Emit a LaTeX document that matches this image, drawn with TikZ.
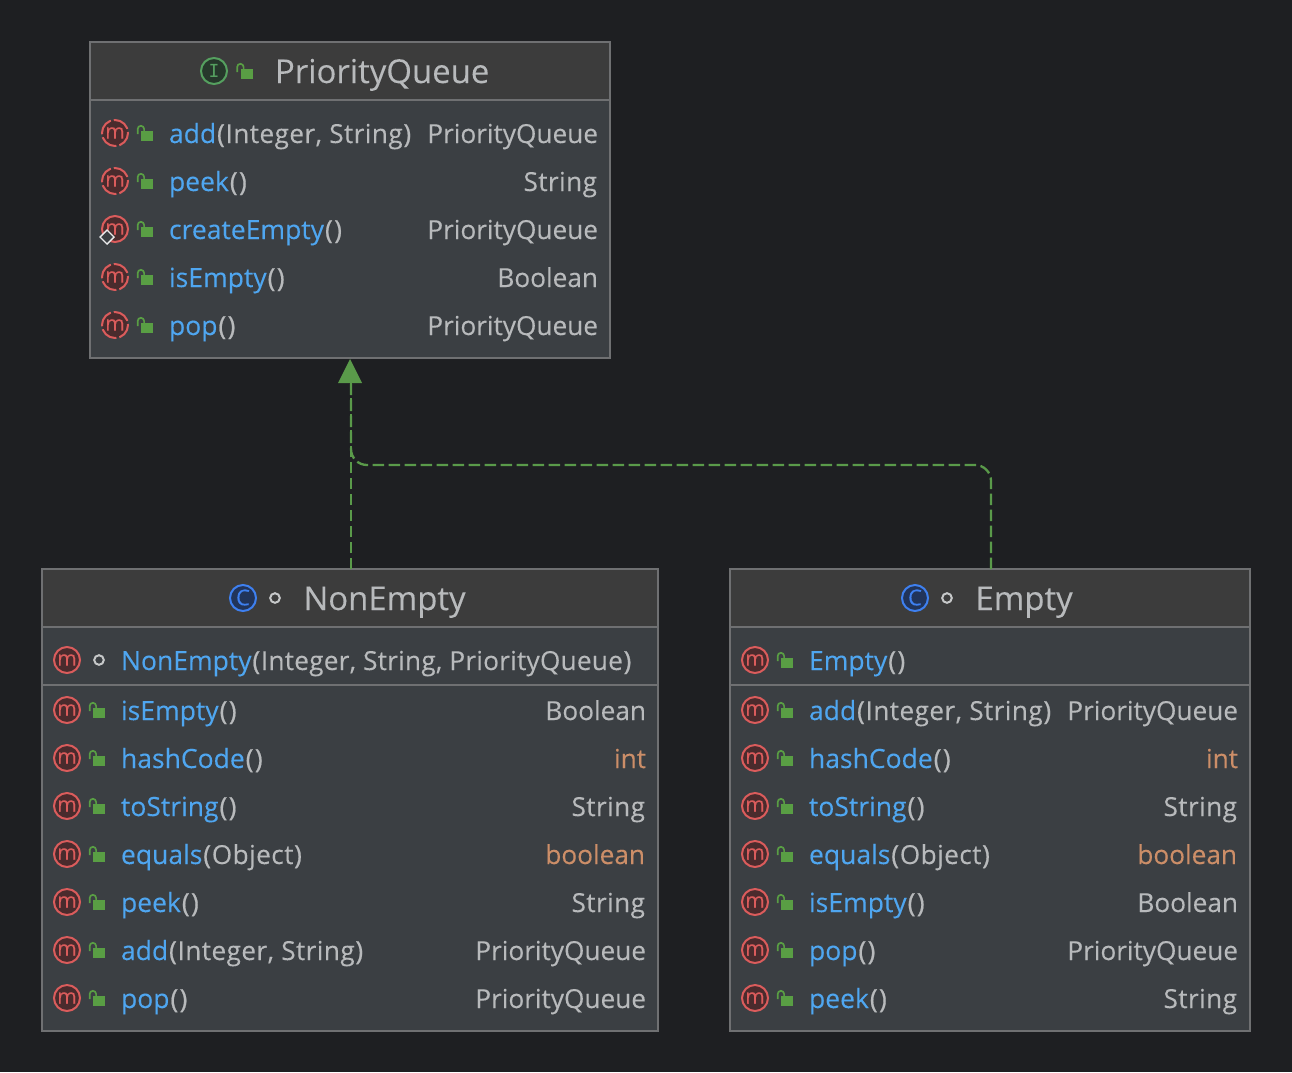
\documentclass[tikz,border=0pt]{standalone}
\usepackage{fontspec}
\setmainfont[FakeBold=0.12]{Open Sans}
\newfontfamily\monoglyph{DejaVu Sans Mono}
\usetikzlibrary{arrows.meta}
\definecolor{bgc}{HTML}{1E1F22}
\definecolor{headc}{HTML}{3C3C3C}
\definecolor{bodyc}{HTML}{3B3F43}
\definecolor{edgec}{HTML}{6F7072}
\definecolor{txtc}{HTML}{B8BABC}
\definecolor{namec}{HTML}{4FA6F0}
\definecolor{kwc}{HTML}{CC8E68}
\definecolor{redc}{HTML}{DB5C5C}
\definecolor{redf}{HTML}{4A2B2D}
\definecolor{grnc}{HTML}{599E44}
\definecolor{grnd}{HTML}{55A05F}
\definecolor{grnf}{HTML}{26382B}
\definecolor{bluc}{HTML}{3E80F0}
\definecolor{bluf}{HTML}{21345A}
\definecolor{linkc}{HTML}{5A9A4A}
\tikzset{
  x=1pt,y=-1pt,
  classbox/.style={draw=edgec,line width=1.4pt,fill=bodyc,inner sep=0pt,outer sep=0pt},
  rowtext/.style={inner sep=0pt,outer sep=0pt,text=txtc,font=\fontsize{26.2}{30}\selectfont},
  titletext/.style={inner sep=0pt,outer sep=0pt,text=txtc,font=\fontsize{32.9}{36}\selectfont},
  glyph/.style={inner sep=0pt,outer sep=0pt},
  realize/.style={draw=linkc,line width=2.3pt,dash pattern=on 11.5pt off 4.5pt},
}
\newcommand{\nm}[1]{\textcolor{namec}{\fontsize{26.5}{30}\selectfont #1}}
\newfontfamily\spaced[LetterSpace=1.6,FakeBold=0.12]{Open Sans}
\newfontfamily\tight[LetterSpace=0.9,FakeBold=0.12]{Open Sans}
\newfontfamily\parenfont[FakeBold=0.7]{Open Sans}
\newcommand{\arglist}[1]{{\spaced #1}}
\newcommand{\longargs}[1]{{\tight #1}}
\newcommand{\lp}{\kern0.9pt{\parenfont(}\kern0.7pt}
\newcommand{\rp}{\kern0.7pt{\parenfont)}}
\newcommand{\emptyargs}{\kern1pt{\parenfont(}\kern1.4pt{\parenfont)}}
% lock icon: #1 x, #2 y (centre of row)
\newcommand{\lockicon}[2]{%
  \fill[grnc] (#1+-5,#2+-3) rectangle (#1+7.3,#2+7);
  \draw[grnc,line width=1.7pt] (#1+-8.3,#2+0) -- (#1+-8.3,#2+-5) arc[start angle=180,end angle=0,x radius=3.2,y radius=-3.2] -- (#1+-1.9,#2+-3);
}
\newcommand{\pkgicon}[2]{%
  \draw[draw=txtc!80!white,line width=2pt] (#1,#2) circle[radius=4.8];
}
% method icon: #1 x, #2 y, #3 = ring style
\newcommand{\methicon}[3]{%
  \fill[redf] (#1,#2) circle[radius=13];
  \draw[redc,line width=2pt,#3] (#1,#2) circle[radius=13];
  \node[glyph,text=redc,font=\fontsize{21}{24}\selectfont] at (#1,#2) {m};
}
% row: #1 id, #2 icon x, #3 y centre, #4 name, #5 args, #6 ret x, #7 ret, #8 ret colour
\newcommand{\memrow}[8]{%
  \methicon{#2}{#3}{}
  \lockicon{#2+31}{#3+1}
  \node[rowtext,anchor=base west] (#1) at (#2+54,#3+10) {\nm{#4}#5};
  \node[rowtext,anchor=base east,text=#8] (#1r) at (#6,#3+10) {#7};
}
\newcommand{\absrow}[8]{%
  \methicon{#2}{#3}{dash pattern=on 17.4pt off 3pt,dash phase=1.5pt}
  \lockicon{#2+31}{#3+1}
  \node[rowtext,anchor=base west] (#1) at (#2+54,#3+10) {\nm{#4}#5};
  \node[rowtext,anchor=base east,text=#8] (#1r) at (#6,#3+10) {#7};
}
\begin{document}
\begin{tikzpicture}
\useasboundingbox (0,0) rectangle (1292,1072);
\fill[bgc] (0,0) rectangle (1292,1072);

% boxes
\node[classbox,anchor=north west,minimum width=520pt,minimum height=316pt] (pq) at (90,42) {};
\node[classbox,anchor=north west,minimum width=616pt,minimum height=462pt] (ne) at (42,569) {};
\node[classbox,anchor=north west,minimum width=520pt,minimum height=462pt] (em) at (730,569) {};

% headers
\fill[headc] (90.7,42.7) rectangle (609.3,100);
\fill[headc] (42.7,569.7) rectangle (657.3,627);
\fill[headc] (730.7,569.7) rectangle (1249.3,627);
\draw[edgec,line width=1.4pt] (90,100) -- (610,100);
\draw[edgec,line width=1.4pt] (42,627) -- (658,627);
\draw[edgec,line width=1.4pt] (42,685) -- (658,685);
\draw[edgec,line width=1.4pt] (730,627) -- (1250,627);
\draw[edgec,line width=1.4pt] (730,685) -- (1250,685);
\draw[edgec,line width=1.4pt] (pq.north west) rectangle (pq.south east);
\draw[edgec,line width=1.4pt] (ne.north west) rectangle (ne.south east);
\draw[edgec,line width=1.4pt] (em.north west) rectangle (em.south east);

% PriorityQueue
\fill[grnf] (214,71) circle[radius=13];
\draw[grnd,line width=2pt] (214,71) circle[radius=13];
\node[glyph,text=grnd,font=\monoglyph\fontsize{18}{20}\selectfont] at (214,71) {I};
\lockicon{245.5}{72}
\node[titletext,anchor=base west] (pqt) at (275,83) {PriorityQueue};
\absrow{a1}{115}{133}{add}{\arglist{\lp Integer, String\rp}}{598}{PriorityQueue}{txtc}
\absrow{a2}{115}{181}{peek}{\emptyargs}{597}{\arglist{String}}{txtc}
\memrow{a3}{115}{229}{createEmpty}{\emptyargs}{598}{PriorityQueue}{txtc}
\absrow{a4}{115}{277}{isEmpty}{\emptyargs}{598}{Boolean}{txtc}
\absrow{a5}{115}{325}{pop}{\emptyargs}{598}{PriorityQueue}{txtc}
\draw[txtc!30!white,fill=bodyc,line width=1.4pt] (107,230) -- (114,237) -- (107,244) -- (100,237) -- cycle;

% NonEmpty
\fill[bluf] (243,598) circle[radius=13];
\draw[bluc,line width=2pt] (243,598) circle[radius=13];
\node[glyph,text=bluc,font=\fontsize{22}{24}\selectfont] at (243,597.5) {C};
\pkgicon{275}{598}
\node[titletext,anchor=base west] (net) at (303.5,610) {NonEmpty};
\methicon{67}{660}{}
\pkgicon{99}{660}
\node[rowtext,anchor=base west] (n0) at (121,670) {\nm{NonEmpty}\longargs{\lp Integer, String, PriorityQueue\rp}};
\memrow{n1}{67}{710}{isEmpty}{\emptyargs}{646}{Boolean}{txtc}
\memrow{n2}{67}{758}{hashCode}{\emptyargs}{646}{int}{kwc}
\memrow{n3}{67}{806}{toString}{\emptyargs}{645}{\arglist{String}}{txtc}
\memrow{n4}{67}{854}{equals}{\arglist{\lp Object\rp}}{645}{boolean}{kwc}
\memrow{n5}{67}{902}{peek}{\emptyargs}{645}{\arglist{String}}{txtc}
\memrow{n6}{67}{950}{add}{\arglist{\lp Integer, String\rp}}{646}{PriorityQueue}{txtc}
\memrow{n7}{67}{998}{pop}{\emptyargs}{646}{PriorityQueue}{txtc}

% Empty
\fill[bluf] (915,598) circle[radius=13];
\draw[bluc,line width=2pt] (915,598) circle[radius=13];
\node[glyph,text=bluc,font=\fontsize{22}{24}\selectfont] at (915,597.5) {C};
\pkgicon{947}{598}
\node[titletext,anchor=base west] (emt) at (975.5,610) {Empty};
\memrow{e0}{755}{660}{Empty}{\emptyargs}{1238}{}{txtc}
\memrow{e1}{755}{710}{add}{\arglist{\lp Integer, String\rp}}{1238}{PriorityQueue}{txtc}
\memrow{e2}{755}{758}{hashCode}{\emptyargs}{1238}{int}{kwc}
\memrow{e3}{755}{806}{toString}{\emptyargs}{1237}{\arglist{String}}{txtc}
\memrow{e4}{755}{854}{equals}{\arglist{\lp Object\rp}}{1237}{boolean}{kwc}
\memrow{e5}{755}{902}{isEmpty}{\emptyargs}{1238}{Boolean}{txtc}
\memrow{e6}{755}{950}{pop}{\emptyargs}{1238}{PriorityQueue}{txtc}
\memrow{e7}{755}{998}{peek}{\emptyargs}{1237}{\arglist{String}}{txtc}

% connectors
\coordinate (joinA) at (351,465);
\coordinate (joinB) at (991,465);
\draw[realize] (ne.north) ++(1,0) -- (351,383);
\draw[realize,rounded corners=16pt] (em.north) ++(1,0) -- (joinB) -- (joinA) -- (351,383);
\fill[linkc] (pq.south) ++(0,1) -- (362,383) -- (338,383) -- cycle;
\end{tikzpicture}
\end{document}
